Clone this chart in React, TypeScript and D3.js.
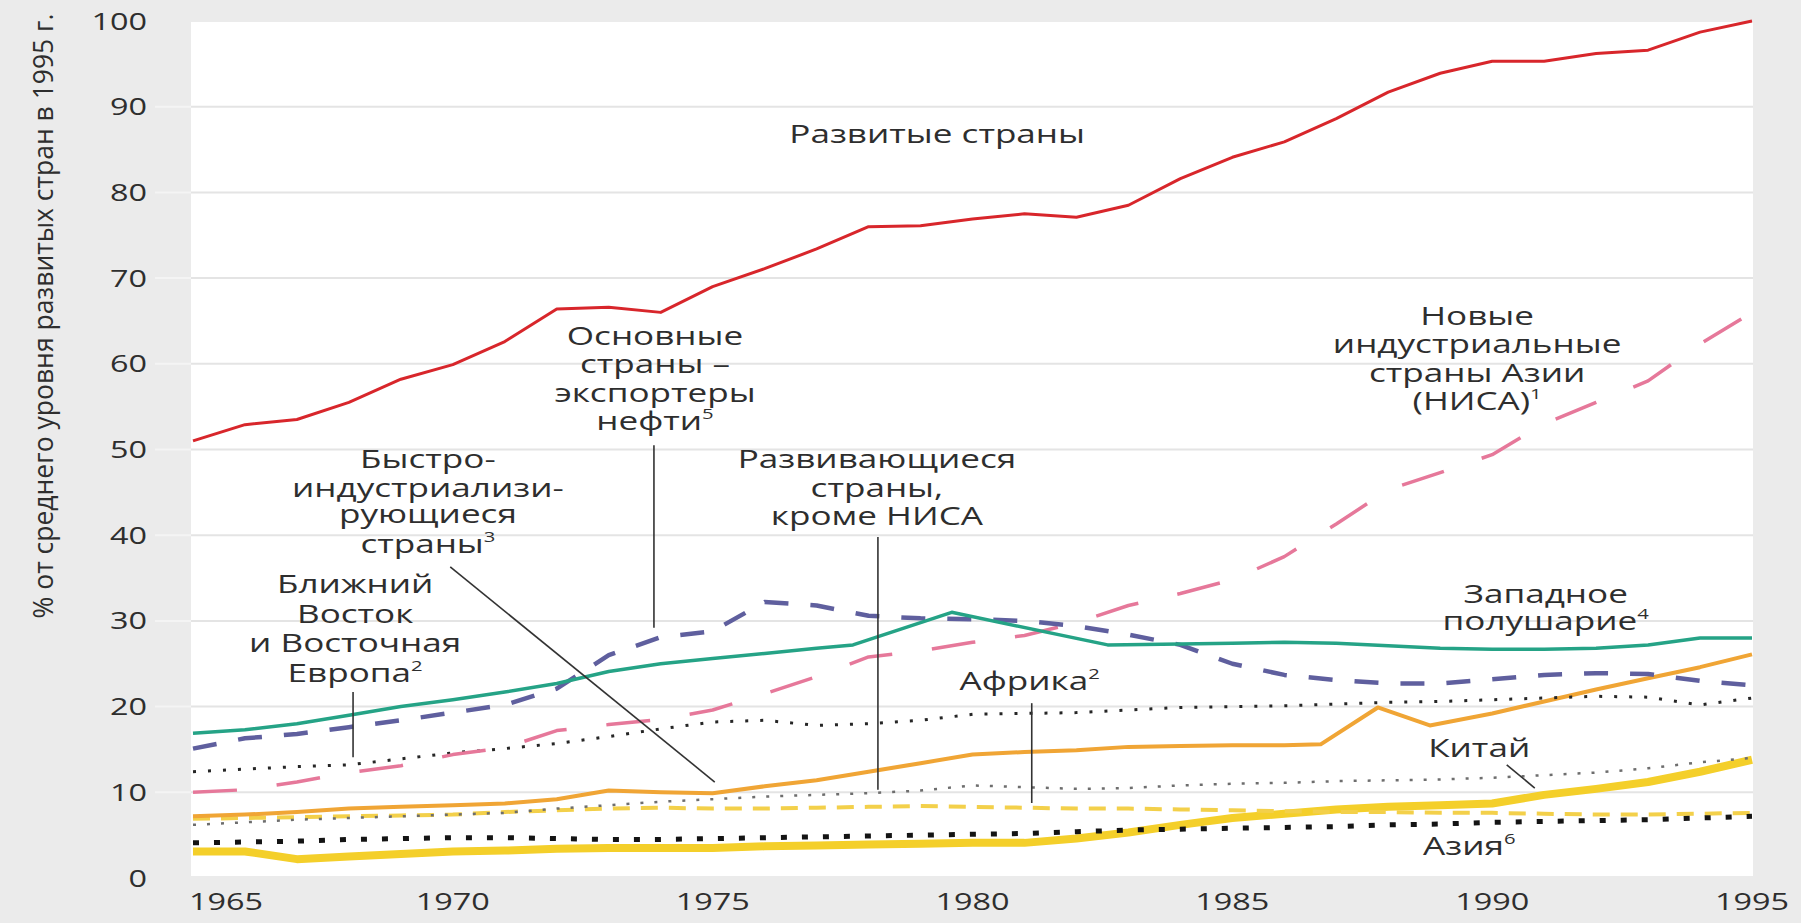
import React from "react";
import * as d3 from "d3";

// ---------- data ----------
const YEARS = [1965, 1966, 1967, 1968, 1969, 1970, 1971, 1972, 1973, 1974, 1975, 1976, 1977, 1978, 1979, 1980,
  1981, 1982, 1983, 1984, 1985, 1986, 1987, 1988, 1989, 1990, 1991, 1992, 1993, 1994, 1995];

const developed = [51.0, 52.9, 53.5, 55.5, 58.2, 59.9, 62.6, 66.4, 66.6, 66.0, 69.0, 71.1, 73.4, 76.0, 76.1, 76.9,
  77.5, 77.1, 78.5, 81.6, 84.1, 85.9, 88.6, 91.7, 93.9, 95.3, 95.3, 96.2, 96.6, 98.7, 100];

const nics = [10.0, 10.3, 11.2, 12.3, 13.1, 14.4, 15.2, 17.2, 17.9, 18.5, 19.6, 21.5, 23.5, 25.8, 26.5, 27.5,
  28.3, 29.8, 31.8, 33.2, 34.8, 37.5, 41.3, 45.3, 47.3, 49.4, 53.0, 55.5, 58.0, 62.3, 66.0];

const oilExporters = [15.1, 16.3, 16.8, 17.6, 18.4, 19.3, 20.2, 22.1, 26.0, 28.1, 28.8, 32.2, 31.8, 30.6, 30.3, 30.2,
  30.0, 29.4, 28.4, 27.2, 25.0, 23.7, 23.1, 22.7, 22.7, 23.2, 23.7, 23.9, 23.8, 23.0, 22.5];

const westYears = [1965, 1966, 1967, 1968, 1969, 1970, 1971, 1972, 1973, 1974, 1975, 1976, 1977, 1977.7, 1979.6,
  1982.6, 1984, 1985, 1986, 1987, 1988, 1989, 1990, 1991, 1992, 1993, 1994, 1995];
const westernHemisphere = [16.9, 17.3, 18.0, 19.0, 20.0, 20.8, 21.7, 22.7, 24.1, 25.0, 25.6, 26.2, 26.8, 27.2, 31.0,
  27.2, 27.3, 27.4, 27.5, 27.4, 27.1, 26.8, 26.7, 26.7, 26.8, 27.2, 28.0, 28.0];

const middleEastEurope = [12.4, 12.7, 13.0, 13.2, 13.9, 14.6, 15.1, 15.7, 16.5, 17.4, 18.2, 18.4, 17.8, 18.0, 18.4, 19.1,
  19.2, 19.3, 19.6, 19.9, 20.0, 20.1, 20.3, 20.5, 20.6, 20.8, 21.0, 21.2, 21.1, 20.2, 21.0];

const developingExNics = [6.2, 6.5, 6.8, 7.0, 7.2, 7.4, 7.6, 8.1, 8.5, 8.9, 9.2, 9.5, 9.7, 9.9, 10.2, 10.8,
  10.6, 10.4, 10.5, 10.8, 11.0, 11.1, 11.3, 11.4, 11.5, 11.7, 12.0, 12.3, 12.8, 13.5, 14.0];

const rapidYears = [1965, 1966, 1967, 1968, 1969, 1970, 1971, 1972, 1973, 1974, 1975, 1976, 1977, 1978, 1979, 1980,
  1981, 1982, 1983, 1984, 1985, 1986, 1986.7, 1987.8, 1988.8, 1990, 1991, 1992, 1993, 1994, 1995];
const rapidIndustrializing = [7.2, 7.4, 7.7, 8.1, 8.3, 8.5, 8.7, 9.2, 10.2, 10.0, 9.9, 10.7, 11.4, 12.4, 13.4, 14.4,
  14.7, 14.9, 15.3, 15.4, 15.5, 15.5, 15.6, 19.9, 17.8, 19.2, 20.6, 22.0, 23.3, 24.6, 26.1];

const africa = [6.9, 7.0, 7.1, 7.2, 7.3, 7.4, 7.7, 7.9, 8.1, 8.2, 8.1, 8.1, 8.2, 8.3, 8.4, 8.3,
  8.2, 8.1, 8.1, 8.0, 7.9, 7.8, 7.7, 7.7, 7.6, 7.6, 7.5, 7.4, 7.4, 7.5, 7.6];

const asia = [4.1, 4.2, 4.3, 4.5, 4.6, 4.7, 4.7, 4.6, 4.5, 4.5, 4.6, 4.7, 4.8, 4.9, 5.0, 5.1,
  5.2, 5.4, 5.6, 5.7, 5.8, 5.9, 6.0, 6.2, 6.3, 6.5, 6.6, 6.7, 6.8, 7.0, 7.2];

const china = [3.1, 3.1, 2.2, 2.5, 2.8, 3.1, 3.2, 3.4, 3.5, 3.5, 3.5, 3.7, 3.8, 3.9, 4.0, 4.1,
  4.1, 4.6, 5.3, 6.2, 7.0, 7.5, 8.0, 8.3, 8.5, 8.7, 9.7, 10.4, 11.2, 12.4, 13.8];

const Y_TICKS = [0, 10, 20, 30, 40, 50, 60, 70, 80, 90, 100];
const X_TICKS = [1965, 1970, 1975, 1980, 1985, 1990, 1995];
const Y_TITLE = "% от среднего уровня развитых стран в 1995 г.";

// ---------- layout ----------
const W = 1801;
const H = 923;
const PLOT = { left: 191, right: 1753, top: 22, bottom: 876 };
const x = d3.scaleLinear().domain([1965, 1995]).range([193, 1752]);
const y = d3.scaleLinear().domain([0, 100]).range([878, 21]);

const FONT = "'Open Sans', 'DejaVu Sans', sans-serif";
const TEXT_COLOR = "#2e2e2e";
const SX = 1.35;

type Series = { years: number[]; values: number[]; stroke: string; width: number; dash?: string; cap?: string };

const SERIES: Series[] = [
  { years: YEARS, values: china, stroke: "#f4cf2a", width: 8 },
  { years: YEARS, values: africa, stroke: "#f3d04a", width: 4, dash: "17,11" },
  { years: YEARS, values: developingExNics, stroke: "#6e6e6e", width: 2.5, dash: "3,11" },
  { years: rapidYears, values: rapidIndustrializing, stroke: "#f0a535", width: 4 },
  { years: YEARS, values: asia, stroke: "#141414", width: 5, dash: "6,15" },
  { years: YEARS, values: middleEastEurope, stroke: "#262626", width: 3, dash: "3,12" },
  { years: YEARS, values: nics, stroke: "#e6789a", width: 3.5, dash: "44,40" },
  { years: YEARS, values: oilExporters, stroke: "#5f5f9e", width: 4.5, dash: "24,22" },
  { years: westYears, values: westernHemisphere, stroke: "#25a386", width: 3.5 },
  { years: YEARS, values: developed, stroke: "#d8262b", width: 3 },
];

type Label = { year: number; baselines: number[]; lines: string[]; sup?: string; anchor?: string };

const LABELS: Label[] = [
  { year: 1979.32, baselines: [85.8], lines: ["Развитые страны"] },
  { year: 1973.89, baselines: [62.2, 58.9, 55.5, 52.3], lines: ["Основные", "страны –", "экспортеры", "нефти"], sup: "5" },
  { year: 1969.52, baselines: [47.8, 44.5, 41.4, 37.9], lines: ["Быстро-", "индустриализи-", "рующиеся", "страны"], sup: "3" },
  { year: 1968.12, baselines: [33.3, 29.8, 26.4, 22.9], lines: ["Ближний", "Восток", "и Восточная", "Европа"], sup: "2" },
  { year: 1978.16, baselines: [47.8, 44.5, 41.2], lines: ["Развивающиеся", "страны,", "кроме НИСА"] },
  { year: 1981.1, baselines: [21.9], lines: ["Африка"], sup: "2" },
  { year: 1991.03, baselines: [32.1, 28.9], lines: ["Западное", "полушарие"], sup: "4" },
  { year: 1989.71, baselines: [64.5, 61.3, 57.9, 54.6], lines: ["Новые", "индустриальные", "страны Азии", "(НИСА)"], sup: "1" },
  { year: 1989.75, baselines: [14.1], lines: ["Китай"] },
  { year: 1988.67, baselines: [2.7], lines: ["Азия"], sup: "6", anchor: "start" },
];

// pointer segments in data space: [year1, value1, year2, value2]
const POINTERS: number[][] = [
  [1973.87, 50.5, 1973.87, 29.2],
  [1969.95, 36.3, 1975.04, 11.2],
  [1968.08, 21.7, 1968.08, 14.1],
  [1978.18, 39.8, 1978.18, 10.3],
  [1981.14, 20.4, 1981.14, 8.75],
  [1990.28, 13.2, 1990.82, 10.5],
];

export default function App() {
  const line = (years: number[]) =>
    d3
      .line<number>()
      .x((_, i) => x(years[i]))
      .y((d) => y(d))
      .curve(d3.curveLinear);

  return (
    <svg
      width={W}
      height={H}
      style={{ position: "absolute", left: 0, top: 0, display: "block" }}
      fontFamily={FONT}
    >
      <rect x={0} y={0} width={W} height={H} fill="#ebebeb" />
      <rect x={PLOT.left} y={PLOT.top} width={PLOT.right - PLOT.left} height={PLOT.bottom - PLOT.top} fill="#ffffff" />

      {/* gridlines */}
      {Y_TICKS.filter((t) => t > 0 && t < 100).map((t) => (
        <g key={"g" + t}>
          <line x1={155} x2={PLOT.left} y1={y(t)} y2={y(t)} stroke="#f4f4f4" strokeWidth={2} />
          <line x1={PLOT.left} x2={PLOT.right} y1={y(t)} y2={y(t)} stroke="#e4e4e4" strokeWidth={2} />
        </g>
      ))}

      {/* y tick labels */}
      {Y_TICKS.map((t) => (
        <text
          key={"yt" + t}
          transform={`translate(147,${y(t) + 8.5}) scale(${SX},1)`}
          textAnchor="end"
          fontSize={24}
          fill={TEXT_COLOR}
        >
          {t}
        </text>
      ))}

      {/* x tick labels */}
      {X_TICKS.map((t, i) => (
        <text
          key={"xt" + t}
          transform={`translate(${i === 0 ? PLOT.left - 2 : x(t)},910) scale(${SX},1)`}
          textAnchor={i === 0 ? "start" : "middle"}
          fontSize={24}
          fill={TEXT_COLOR}
        >
          {t}
        </text>
      ))}

      {/* y axis title */}
      <text
        transform={`translate(53,316) rotate(-90) scale(1,1.3)`}
        textAnchor="middle"
        fontSize={21}
        fill={TEXT_COLOR}
        textLength={605}
        lengthAdjust="spacingAndGlyphs"
      >
        {Y_TITLE}
      </text>

      {/* series */}
      {SERIES.map((s, i) => (
        <path
          key={"s" + i}
          d={line(s.years)(s.values) || ""}
          fill="none"
          stroke={s.stroke}
          strokeWidth={s.width}
          strokeDasharray={s.dash}
          strokeLinejoin="round"
          strokeLinecap="butt"
        />
      ))}

      {/* pointers */}
      {POINTERS.map((p, i) => (
        <line key={"p" + i} x1={x(p[0])} y1={y(p[1])} x2={x(p[2])} y2={y(p[3])} stroke="#333" strokeWidth={1.6} />
      ))}

      {/* labels */}
      {LABELS.map((l, i) =>
        l.lines.map((txt, j) => (
          <text
            key={"l" + i + "_" + j}
            transform={`translate(${x(l.year)},${y(l.baselines[j])}) scale(${SX},1)`}
            textAnchor={l.anchor || "middle"}
            fontSize={26}
            fill={TEXT_COLOR}
          >
            {txt}
            {l.sup && j === l.lines.length - 1 ? (
              <tspan fontSize={15} dy={-11}>
                {l.sup}
              </tspan>
            ) : null}
          </text>
        ))
      )}
    </svg>
  );
}
